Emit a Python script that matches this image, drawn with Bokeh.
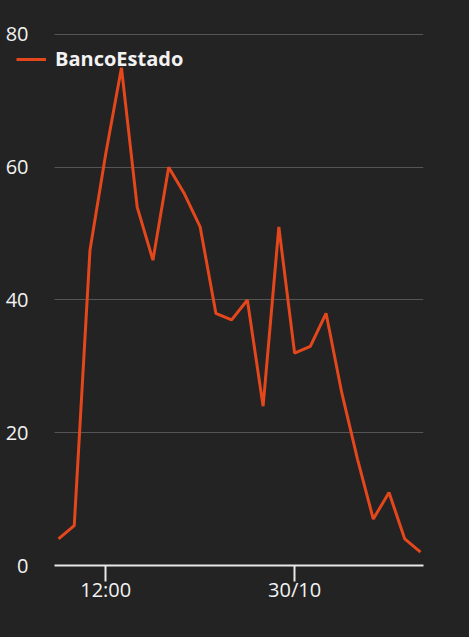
from bokeh.plotting import figure
from bokeh.models import Range1d, FixedTicker, Legend, ColumnDataSource
from bokeh.embed import file_html
from bokeh.resources import INLINE
import pandas as pd

times = ["2013-10-29 09:00", "2013-10-29 10:00", "2013-10-29 11:00", "2013-10-29 12:00",
         "2013-10-29 13:00", "2013-10-29 14:00", "2013-10-29 15:00", "2013-10-29 16:00",
         "2013-10-29 17:00", "2013-10-29 18:00", "2013-10-29 19:00", "2013-10-29 20:00",
         "2013-10-29 21:00", "2013-10-29 22:00", "2013-10-29 23:00", "2013-10-30 00:00",
         "2013-10-30 01:00", "2013-10-30 02:00", "2013-10-30 03:00", "2013-10-30 04:00",
         "2013-10-30 05:00", "2013-10-30 06:00", "2013-10-30 07:00", "2013-10-30 08:00"]
values = [4, 6, 47.5, 62, 75, 54, 46, 60, 56, 51, 38, 37,
          40, 24, 51, 32, 33, 38, 26, 16, 7, 11, 4, 2]
series_name = "BancoEstado"
tick_times = ["2013-10-29 12:00", "2013-10-30 00:00"]
tick_labels = ["12:00", "30/10"]
y_ticks = [0, 20, 40, 60, 80]

def to_ms(ts):
    return [pd.Timestamp(t).timestamp() * 1000.0 for t in ts]

x_ms = to_ms(times)
tick_ms = to_ms(tick_times)
hour = 3600000.0

BG = "#232323"
FONT = "Open Sans"
LINE = "#E4471B"
TXT = "#F2F2F2"

# frame spans from x=16 so the legend key (left of the axis area) is not clipped
x_start = x_ms[0] - 2.6686 * hour
x_end = x_ms[-1] + 0.1906 * hour
plot_left = x_ms[0] - 0.254 * hour   # where the grid and the x axis line begin

p = figure(width=469, height=637, output_backend="svg", toolbar_location=None,
           x_axis_type="datetime",
           x_range=Range1d(x_start, x_end),
           y_range=Range1d(0, 80.3),
           min_border_left=16, min_border_right=46, min_border_top=32, min_border_bottom=72)
p.background_fill_color = BG
p.border_fill_color = BG
p.outline_line_color = None

src = ColumnDataSource(dict(x=x_ms, y=values))
r = p.line("x", "y", source=src, line_color=LINE, line_width=3)

# x axis
xa = p.xaxis[0]
xa.ticker = FixedTicker(ticks=tick_ms)
xa.bounds = (plot_left, x_end)
xa.major_label_overrides = {t: l for t, l in zip(tick_ms, tick_labels)}
xa.axis_line_color = "#E8E8E8"
xa.axis_line_width = 2
xa.major_tick_line_color = "#E8E8E8"
xa.major_tick_line_width = 2
xa.major_tick_out = 16
xa.major_tick_in = 0
xa.minor_tick_line_color = None
xa.major_label_text_color = TXT
xa.major_label_text_font = FONT
xa.major_label_text_font_size = "20px"
xa.major_label_standoff = -6

# y axis (labels drawn over the left part of the frame)
ya = p.yaxis[0]
ya.ticker = FixedTicker(ticks=y_ticks)
ya.axis_line_color = None
ya.major_tick_line_color = None
ya.major_tick_out = 0
ya.major_tick_in = 0
ya.minor_tick_line_color = None
ya.major_label_text_color = TXT
ya.major_label_text_font = FONT
ya.major_label_text_font_size = "20px"
ya.major_label_standoff = -12

p.xgrid.grid_line_color = None
p.ygrid.ticker = FixedTicker(ticks=y_ticks[1:])
p.ygrid.cross_bounds = (plot_left, x_end)
p.ygrid.grid_line_color = "#555555"
p.ygrid.grid_line_width = 1

legend = Legend(items=[(series_name, [r])], location=(0, 493),
                background_fill_alpha=0, border_line_alpha=0,
                padding=0, margin=0, spacing=0,
                glyph_width=30, glyph_height=20, label_standoff=9,
                label_text_color=TXT, label_text_font=FONT,
                label_text_font_size="20px", label_text_font_style="bold")
p.add_layout(legend)

html = file_html(p, INLINE)
html = html.replace("<head>", "<head><style>html,body{background:%s;margin:0;}</style>" % BG, 1)
open("out.html", "w").write(html)
